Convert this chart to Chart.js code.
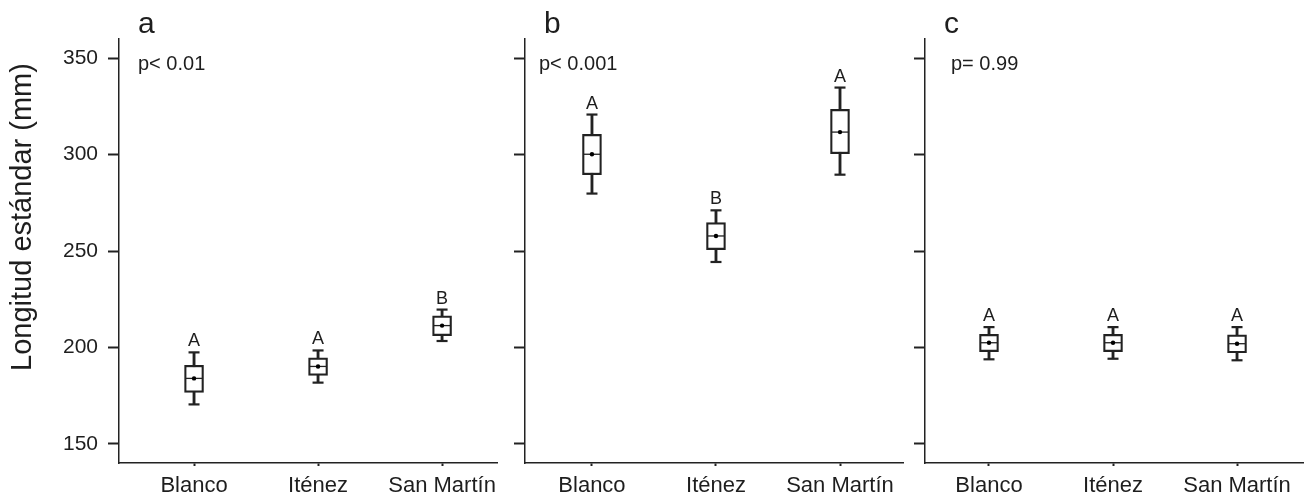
<!DOCTYPE html>
<html>
<head>
<meta charset="utf-8">
<script src="https://cdn.jsdelivr.net/npm/chart.js@4.4.1/dist/chart.umd.min.js"></script>
<style>
  body { margin: 0; background: #fff; }
  #wrap { position: relative; width: 1316px; height: 502px; overflow: hidden; }
  canvas { position: absolute; top: 0; }
</style>
</head>
<body>
<div id="wrap">
  <canvas id="panelA" width="512" height="502" style="left:0px"></canvas>
  <canvas id="panelB" width="410" height="502" style="left:512px"></canvas>
  <canvas id="panelC" width="404" height="502" style="left:912px"></canvas>
</div>
<script>
// categories / ticks
const sites = ["Blanco", "Iténez", "San Martín"];
const sitePos = [1, 2, 3];
const yTicks = [150, 200, 250, 300, 350];
const yTitle = "Longitud estándar (mm)";

// panel a
const aLow = [170.4, 181.7, 203.3];
const aQ1 = [176.6, 185.5, 206.1];
const aMedian = [183.9, 190.1, 211.3];
const aMean = [183.9, 190.1, 211.3];
const aQ3 = [190.7, 194.6, 216.4];
const aHigh = [197.4, 198.4, 219.6];
const aGroups = ["A", "A", "B"];

// panel b
const bLow = [279.8, 244.3, 289.6];
const bQ1 = [289.6, 250.7, 300.5];
const bMedian = [300.2, 257.8, 311.7];
const bMean = [300.2, 257.8, 311.7];
const bQ3 = [310.5, 264.7, 323.5];
const bHigh = [320.8, 271.1, 334.8];
const bGroups = ["A", "B", "A"];

// panel c
const cLow = [193.8, 194.1, 193.3];
const cQ1 = [197.8, 197.8, 197.2];
const cMedian = [202.4, 202.4, 201.9];
const cMean = [202.4, 202.4, 201.9];
const cQ3 = [206.7, 206.7, 206.5];
const cHigh = [210.5, 210.5, 210.5];
const cGroups = ["A", "A", "A"];

const INK = "#222";
const FONT = "'Liberation Sans', Arial, sans-serif";
Chart.defaults.font.family = FONT;
Chart.defaults.color = "#1e1e1e";

const pts = (vals) => sitePos.map((x, i) => ({ x: x, y: vals[i] }));
const ranges = (lo, hi) => sitePos.map((x, i) => ({ x: x, y: [lo[i], hi[i]] }));

function makePanel(id, p) {
  const notes = {
    id: "notes",
    afterDraw(chart) {
      const { ctx, chartArea: a, scales } = chart;
      ctx.save();
      ctx.fillStyle = "#1e1e1e";
      ctx.textAlign = "left";
      ctx.textBaseline = "alphabetic";
      ctx.font = "30px " + FONT;
      ctx.fillText(p.letter, a.left + 19, a.top - 6);
      ctx.font = "20px " + FONT;
      ctx.fillText(p.pText, a.left + p.pDx, a.top + 31);
      // letras de grupo sobre los bigotes
      ctx.font = "18px " + FONT;
      ctx.textAlign = "center";
      p.groups.forEach((g, i) => {
        ctx.fillText(g, scales.x.getPixelForValue(sitePos[i]), scales.y.getPixelForValue(p.high[i]) - 6);
      });
      if (p.title) {
        ctx.translate(23, (a.top + a.bottom) / 2 - 34);
        ctx.rotate(-Math.PI / 2);
        ctx.font = "29px " + FONT;
        ctx.textBaseline = "middle";
        ctx.fillText(p.title, 0, 0);
      }
      ctx.restore();
    }
  };

  return new Chart(document.getElementById(id), {
    type: "bar",
    data: {
      datasets: [
        { type: "line", data: pts(p.mean), showLine: false, pointStyle: "circle",
          pointRadius: 2.2, pointBackgroundColor: "#000", pointBorderWidth: 0, order: 0 },
        { type: "line", data: pts(p.median), showLine: false, pointStyle: "line",
          pointRadius: 8.5, pointBorderColor: INK, pointBorderWidth: 1.3, order: 1 },
        { type: "line", data: pts(p.low).concat(pts(p.high)), showLine: false, pointStyle: "line",
          pointRadius: 5.5, pointBorderColor: INK, pointBorderWidth: 2.2, order: 2 },
        { type: "bar", data: ranges(p.q1, p.q3), grouped: false, barThickness: 19,
          backgroundColor: "#fff", borderColor: INK, borderWidth: 2.2, borderSkipped: false, order: 3 },
        { type: "bar", data: ranges(p.low, p.high), grouped: false, barThickness: 2.2,
          backgroundColor: INK, borderWidth: 0, order: 4 }
      ]
    },
    options: {
      responsive: false,
      animation: false,
      events: [],
      layout: { padding: { left: 0, right: p.padRight, top: 39, bottom: 0 } },
      plugins: { legend: { display: false }, tooltip: { enabled: false } },
      scales: {
        x: {
          type: "linear",
          min: p.xMin,
          max: p.xMax,
          offset: false,
          afterBuildTicks: (s) => { s.ticks = sitePos.map((v) => ({ value: v })); },
          afterFit: (s) => { s.height = 39; },
          grid: { drawOnChartArea: false, tickLength: 3, tickWidth: 2, tickColor: INK, offset: false },
          border: { color: INK, width: 1.5 },
          ticks: { autoSkip: false, maxRotation: 0, padding: 7, font: { size: 22 },
            callback: (v) => sites[sitePos.indexOf(v)] || "" }
        },
        y: {
          min: 140,
          max: 360,
          afterBuildTicks: (s) => { s.ticks = yTicks.map((v) => ({ value: v })); },
          afterFit: (s) => { s.width = p.yWidth; },
          grid: { drawOnChartArea: false, tickLength: 11, tickWidth: 2, tickColor: INK },
          border: { color: INK, width: 1.5 },
          ticks: { padding: 10, font: { size: 21 },
            callback: (v) => (p.yLabels ? String(v) : "") }
        }
      }
    },
    plugins: [notes]
  });
}

makePanel("panelA", {
  low: aLow, q1: aQ1, median: aMedian, mean: aMean, q3: aQ3, high: aHigh, groups: aGroups,
  letter: "a", pText: "p< 0.01", pDx: 19, title: yTitle, yLabels: true,
  yWidth: 119, padRight: 15, xMin: 0.395, xMax: 3.443
});
makePanel("panelB", {
  low: bLow, q1: bQ1, median: bMedian, mean: bMean, q3: bQ3, high: bHigh, groups: bGroups,
  letter: "b", pText: "p< 0.001", pDx: 14, title: null, yLabels: false,
  yWidth: 13, padRight: 19, xMin: 0.46, xMax: 3.508
});
makePanel("panelC", {
  low: cLow, q1: cQ1, median: cMedian, mean: cMean, q3: cQ3, high: cHigh, groups: cGroups,
  letter: "c", pText: "p= 0.99", pDx: 26, title: null, yLabels: false,
  yWidth: 13, padRight: 13, xMin: 0.484, xMax: 3.532
});
</script>
</body>
</html>
